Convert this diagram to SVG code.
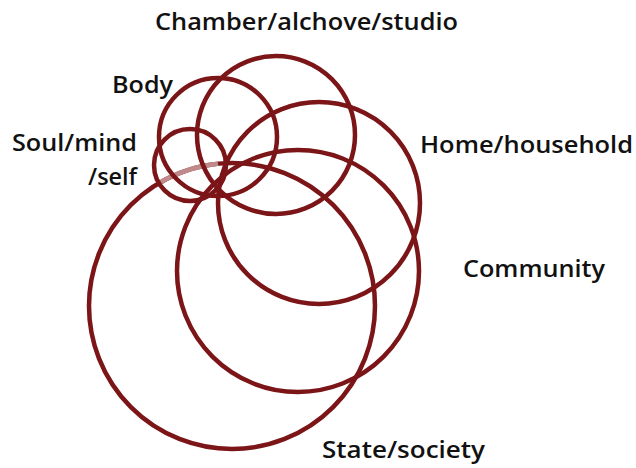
<svg xmlns="http://www.w3.org/2000/svg" width="636" height="468" viewBox="0 0 636 468">
<style>
.c{fill:none;stroke:#7b1517;stroke-width:4.5}
.f{fill:none;stroke:#c08a8b;stroke-width:4.6}
text{font-family:"Open Sans","Noto Sans",sans-serif;font-weight:600;font-size:24px;fill:#111}
</style>
<rect width="636" height="468" fill="#fff"/>
<g id="state"><circle class="c" cx="232" cy="306" r="143"/></g>
<g id="state-fade"><path class="f" d="M158.5,183.3 A143,143 0 0 1 218,163.7"/></g>
<g id="community"><circle class="c" cx="298" cy="271" r="121"/></g>
<g id="home"><circle class="c" cx="319" cy="203" r="101"/></g>
<g id="chamber"><circle class="c" cx="276" cy="135" r="79"/></g>
<g id="body"><circle class="c" cx="218" cy="137" r="59"/></g>
<g id="soul"><circle class="c" cx="190" cy="165" r="36"/></g>
<g id="labels">
<text x="155" y="30" textLength="303" lengthAdjust="spacingAndGlyphs">Chamber/alchove/studio</text>
<text x="112" y="93" textLength="61" lengthAdjust="spacingAndGlyphs">Body</text>
<text x="12" y="151" textLength="125" lengthAdjust="spacingAndGlyphs">Soul/mind</text>
<text x="88" y="185" textLength="49" lengthAdjust="spacingAndGlyphs">/self</text>
<text x="420" y="153" textLength="213" lengthAdjust="spacingAndGlyphs">Home/household</text>
<text x="463" y="277" textLength="142" lengthAdjust="spacingAndGlyphs">Community</text>
<text x="322" y="458" textLength="163" lengthAdjust="spacingAndGlyphs">State/society</text>
</g>
<g id="connectors"></g>
</svg>
